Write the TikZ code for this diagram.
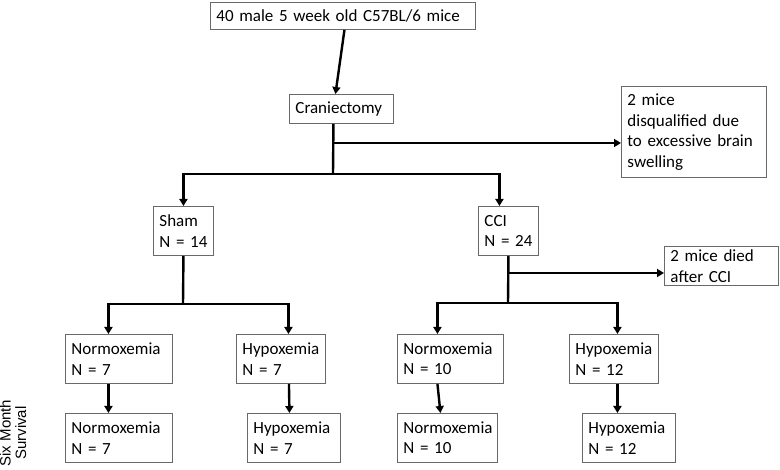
\documentclass[tikz,border=0pt]{standalone}
\usepackage{xcolor}
\usepackage{fontspec}
\setmainfont{Carlito}
\newfontfamily\sidefont{Liberation Sans}
\usetikzlibrary{arrows.meta, positioning, calc}
\definecolor{boxedge}{RGB}{105, 105, 105}
\definecolor{flowline}{RGB}{0, 0, 0}

\begin{document}
\begin{tikzpicture}[x=1pt, y=-1pt,
        stagebox/.style={draw=boxedge, line width=0.9pt, fill=white, anchor=north west,
            align=left, inner xsep=6pt, inner ysep=0pt,
            font=\fontsize{17}{20.5}\selectfont},
        flow/.style={draw=flowline, line width=2.4pt},
        flowarrow/.style={flow, -{Triangle[length=7pt, width=8pt]}}
    ]
    \useasboundingbox (0,0) rectangle (780,470);

    % top of the flow
    \node[stagebox, text width=253pt, minimum height=27pt] (mice) at (210,2) {40 male 5 week old C57BL/6 mice};
    \node[stagebox, text width=92pt, minimum height=29pt] (cran) at (289,94) {Craniectomy};
    \node[stagebox, text width=133pt, minimum height=91pt] (excl) at (621,86) {2 mice\\disqualified due\\to excessive brain\\swelling};

    % groups
    \node[stagebox, text width=48pt, minimum height=49pt] (sham) at (153,206) {Sham\\\mbox{N = 14}};
    \node[stagebox, text width=48pt, minimum height=49pt] (cci) at (478,206) {CCI\\\mbox{N = 24}};
    \node[stagebox, text width=102pt, minimum height=39pt] (died) at (664,246) {2 mice died\\after CCI};

    % oxygen arms
    \node[stagebox, text width=95pt, minimum height=49pt] (shamnorm) at (65,334) {Normoxemia\\N = 7};
    \node[stagebox, text width=77pt, minimum height=49pt] (shamhypo) at (236,334) {Hypoxemia\\N = 7};
    \node[stagebox, text width=94pt, minimum height=49pt] (ccinorm) at (397,334) {Normoxemia\\N = 10};
    \node[stagebox, text width=77pt, minimum height=49pt] (ccihypo) at (569,334) {Hypoxemia\\N = 12};

    % six month survival
    \node[stagebox, text width=95pt, minimum height=49pt] (shamnormsurv) at (65,413) {Normoxemia\\N = 7};
    \node[stagebox, text width=81pt, minimum height=49pt] (shamhyposurv) at (247,413) {Hypoxemia\\N = 7};
    \node[stagebox, text width=88pt, minimum height=49pt] (ccinormsurv) at (397,413) {Normoxemia\\N = 10};
    \node[stagebox, text width=81pt, minimum height=49pt] (ccihyposurv) at (582,413) {Hypoxemia\\N = 12};

    \node[rotate=90, align=center, inner sep=0pt, font=\sidefont\fontsize{15}{15.5}\selectfont] (survival) at (13,433) {Six Month\\Survival};

    % junctions
    \coordinate (cranout) at (333,143);
    \coordinate (cransplit) at (333,174);
    \coordinate (shamsplit) at (183,304);
    \coordinate (ccidrop) at (508,273);
    \coordinate (ccisplit) at (508,303);

    % connectors
    \draw[flowarrow] ([xshift=1.5pt]mice.south) -- ([xshift=-6pt]cran.north);
    \draw[flow] ([xshift=-8pt]cran.south) -- (cransplit);
    \draw[flowarrow] (cranout) -- (cranout -| excl.west);
    \draw[flowarrow] (cransplit) -| (sham.north);
    \draw[flowarrow] (cransplit) -| ([xshift=-9pt]cci.north);

    \draw[flow] (sham.south) -- (shamsplit);
    \draw[flowarrow] (shamsplit) -| ([xshift=-10.5pt]shamnorm.north);
    \draw[flowarrow] (shamsplit) -| ([xshift=7.5pt]shamhypo.north);

    \draw[flow] (cci.south) -- (ccisplit);
    \draw[flowarrow] (ccidrop) -- (ccidrop -| died.west);
    \draw[flowarrow] (ccisplit) -| ([xshift=-13pt]ccinorm.north);
    \draw[flowarrow] (ccisplit) -| ([xshift=3.5pt]ccihypo.north);

    \draw[flowarrow] ([xshift=-10.5pt]shamnorm.south) -- ([xshift=-10.5pt]shamnormsurv.north);
    \draw[flowarrow] ([xshift=8pt]shamhypo.south) -- ([xshift=-4.5pt]shamhyposurv.north);
    \draw[flowarrow] ([xshift=-13pt]ccinorm.south) -- ([xshift=-7pt]ccinormsurv.north);
    \draw[flowarrow] ([xshift=3.5pt]ccihypo.south) -- ([xshift=-11.5pt]ccihyposurv.north);
\end{tikzpicture}
\end{document}
